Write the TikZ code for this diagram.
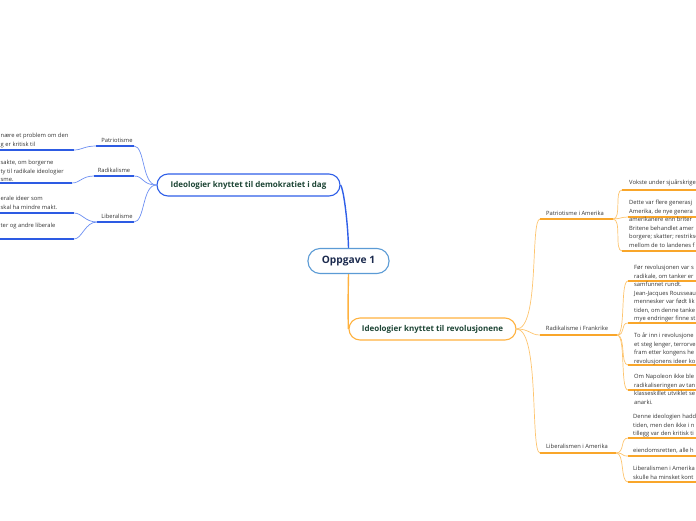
\documentclass[tikz,border=0pt]{standalone}
\usepackage{fontspec}
\setmainfont{Open Sans}
\usetikzlibrary{backgrounds}
\definecolor{bluemain}{HTML}{2F5FE8}
\definecolor{bluesub}{HTML}{6B8EF2}
\definecolor{blueul}{HTML}{2D5BE3}
\definecolor{orgmain}{HTML}{FFB23F}
\definecolor{orgsub}{HTML}{FDC46E}
\definecolor{orgul}{HTML}{F9A62A}
\definecolor{rootborder}{HTML}{5B9BD5}
\definecolor{roottext}{HTML}{1B2A4E}
\definecolor{titletext}{HTML}{1D4535}
\definecolor{leaftext}{HTML}{333333}
\newcommand\leafblock[4]{%
  \foreach \t [count=\i] in {#4} \node[leafline] (#3\i) at (#1, {#2+8.5*(\i-1)}) {\t};}
\tikzset{
  rootnode/.style={draw=rootborder, line width=1.1pt, fill=white, rounded corners=12pt,
    minimum width=81pt, minimum height=25pt, inner sep=0pt,
    font=\fontsize{10.2}{11}\selectfont\bfseries, text=roottext},
  mainblue/.style={draw=bluemain, line width=1.1pt, fill=white, rounded corners=11pt,
    minimum height=22pt, inner sep=0pt, font=\fontsize{8}{9}\selectfont\bfseries, text=titletext},
  mainorange/.style={mainblue, draw=orgmain},
  sublabel/.style={font=\fontsize{5.8}{6.5}\selectfont, text=leaftext, inner sep=0pt},
  leafline/.style={font=\fontsize{5.8}{6.5}\selectfont, text=leaftext, inner sep=0pt,
    anchor=west, text height=4.2pt, text depth=1.1pt},
  bconn/.style={draw=bluemain, line width=1.4pt},
  bsub/.style={draw=bluesub, line width=0.7pt},
  bul/.style={draw=blueul, line width=1.6pt},
  oconn/.style={draw=orgmain, line width=1.4pt},
  osub/.style={draw=orgsub, line width=0.7pt},
  oul/.style={draw=orgul, line width=1.6pt},
}
\begin{document}
\begin{tikzpicture}[x=1pt,y=-1pt]
\useasboundingbox (0,0) rectangle (696,520);
\clip (0,0) rectangle (696,520);

% main nodes
\node[rootnode] (root) at (348.5,261) {Oppgave 1};
\node[mainblue, minimum width=183pt] (dem) at (248.5,185) {Ideologier knyttet til demokratiet i dag};
\node[mainorange, minimum width=167pt] (rev) at (432.5,329) {Ideologier knyttet til revolusjonene};

% ---------- left side ----------
\node[sublabel] (pat) at (117,140) {Patriotisme};
\node[sublabel] (rad) at (114,170) {Radikalisme};
\node[sublabel] (lib) at (117,216) {Liberalisme};
\coordinate (patL) at (96,146);  \coordinate (patR) at (134,146);
\coordinate (radL) at (94,176);  \coordinate (radR) at (134,176);
\coordinate (libL) at (97,222);  \coordinate (libR) at (134,222);

\leafblock{0.5}{136}{lA}{nære et problem om den, g er kritisk til}
\leafblock{0.5}{163}{lB}{{sakte, om borgerne}, ty til radikale ideologier, sme.}
\leafblock{0.5}{199}{lC}{erale ideer som, skal ha mindre makt.}
\leafblock{0.5}{226}{lD}{ter og andre liberale}
\coordinate (lAe) at (74,150); \coordinate (lAs) at (-2,150);
\coordinate (lBe) at (72,183); \coordinate (lBs) at (-2,183);
\coordinate (lCe) at (74,213); \coordinate (lCs) at (-2,213);
\coordinate (lDe) at (74,239); \coordinate (lDs) at (-2,239);

% ---------- right side ----------
\node[sublabel] (pa) at (575,213) {Patriotisme i Amerika};
\node[sublabel] (rf) at (577,328) {Radikalisme i Frankrike};
\node[sublabel] (la) at (577,446) {Liberalismen i Amerika};
\coordinate (paL) at (540,219); \coordinate (paR) at (613,219);
\coordinate (rfL) at (540,335); \coordinate (rfR) at (617,335);
\coordinate (laL) at (540,453); \coordinate (laR) at (616,453);

\leafblock{629}{183}{pA}{Vokste under sjuårskrige}
\leafblock{629}{203}{pB}{Dette var flere generasj, {Amerika, de nye genera}, amerikanere enn briter, Britene behandlet amer, {borgere; skatter; restrikso}, mellom de to landenes f}
\coordinate (pAs) at (622,190); \coordinate (pAe) at (698,190);
\coordinate (pBs) at (628,217); \coordinate (pBe) at (698,217);
\coordinate (pCs) at (622,251); \coordinate (pCe) at (698,251);

\leafblock{634}{268}{rA}{Før revolusjonen var s, {radikale, om tanker er}, samfunnet rundt., Jean-Jacques Rousseau, mennesker var født lik, {tiden, om denne tanke}, mye endringer finne st}
\leafblock{634}{336}{rB}{To år inn i revolusjone, {et steg lenger, terrorve}, fram etter kongens he, revolusjonens ideer ko}
\leafblock{634}{377}{rC}{Om Napoleon ikke ble, radikaliseringen av tan, klasseskillet utviklet se, anarki.}
\coordinate (r1s) at (628,281); \coordinate (r1e) at (698,281);
\coordinate (r2s) at (628,323); \coordinate (r2e) at (698,323);
\coordinate (r3s) at (628,365); \coordinate (r3e) at (698,365);
\coordinate (r4s) at (628,390); \coordinate (r4e) at (698,390);

\leafblock{633}{417}{bA}{Denne ideologien hadd, {tiden, men den ikke i n}, tillegg var den kritisk ti}
\leafblock{633}{451}{bB}{{eiendomsretten, alle h}}
\leafblock{633}{469}{bC}{Liberalismen i Amerika, skulle ha minsket kont}
\coordinate (b1s) at (628,438); \coordinate (b1e) at (698,438);
\coordinate (b2s) at (628,456); \coordinate (b2e) at (698,456);
\coordinate (b3s) at (628,482); \coordinate (b3e) at (698,482);

\begin{pgfonlayer}{background}
  % main connectors
  \draw[bconn] (root.north) .. controls (348,225) and (344,190) .. (dem.east);
  \draw[oconn] (root.south) .. controls (348,300) and (348,318) .. (rev.west);
  % left
  \draw[bsub] (dem.west) .. controls (142,185) and (145,146) .. (patR);
  \draw[bsub] (dem.west) .. controls (142,185) and (144,176) .. (radR);
  \draw[bsub] (dem.west) .. controls (142,185) and (145,222) .. (libR);
  \draw[bul] (patL) -- (patR);
  \draw[bul] (radL) -- (radR);
  \draw[bul] (libL) -- (libR);
  \draw[bsub] (patL) .. controls +(-12,0) and +(8,0) .. (lAe);
  \draw[bsub] (radL) .. controls +(-12,0) and +(8,0) .. (lBe);
  \draw[bsub] (libL) .. controls +(-12,0) and +(8,0) .. (lCe);
  \draw[bsub] (libL) .. controls +(-12,0) and +(8,0) .. (lDe);
  \draw[bul] (lAs) -- (lAe);
  \draw[bul] (lBs) -- (lBe);
  \draw[bul] (lCs) -- (lCe);
  \draw[bul] (lDs) -- (lDe);
  % right
  \draw[osub] (rev.east) .. controls (540,329) and (530,219) .. (paL);
  \draw[osub] (rev.east) .. controls (530,329) and (530,335) .. (rfL);
  \draw[osub] (rev.east) .. controls (540,329) and (530,453) .. (laL);
  \draw[oul] (paL) -- (paR);
  \draw[oul] (rfL) -- (rfR);
  \draw[oul] (laL) -- (laR);
  \draw[osub] (paR) .. controls +(9,0) and +(-8,0) .. (pAs);
  \draw[osub] (paR) .. controls +(7,0) and +(-7,0) .. (pBs);
  \draw[osub] (paR) .. controls +(9,0) and +(-8,0) .. (pCs);
  \draw[oul] (pAs) -- (pAe);
  \draw[oul] (pBs) -- (pBe);
  \draw[oul] (pCs) -- (pCe);
  \foreach \k in {1,2,3,4} {
    \draw[osub] (rfR) .. controls +(9,0) and +(-8,0) .. (r\k s);
    \draw[oul] (r\k s) -- (r\k e);
  }
  \foreach \k in {1,2,3} {
    \draw[osub] (laR) .. controls +(9,0) and +(-8,0) .. (b\k s);
    \draw[oul] (b\k s) -- (b\k e);
  }
\end{pgfonlayer}
\end{tikzpicture}
\end{document}
